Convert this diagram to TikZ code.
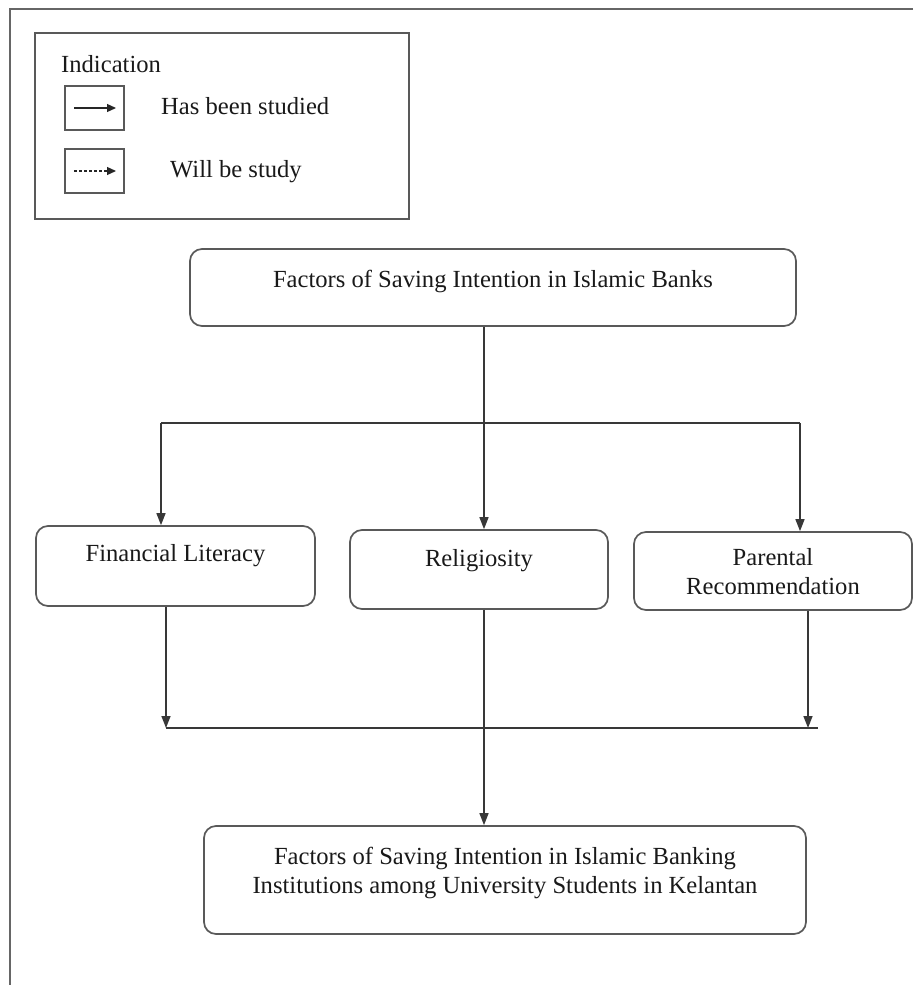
\documentclass[tikz,border=0pt]{standalone}
\usepackage{fontspec}
\setmainfont{Liberation Serif}
\usetikzlibrary{arrows.meta}
\begin{document}
\begin{tikzpicture}[x=1pt,y=-1pt,
  frame/.style={draw=black!60, line width=1.8pt},
  edge/.style={draw=black!78, line width=1.5pt},
  arr/.style={edge, -{Triangle[length=12pt,width=9pt]}},
  smallarr/.style={draw=black!85, line width=1.3pt, -{Triangle[length=9pt,width=8pt]}},
  box/.style={draw=black!65, line width=1.7pt, rounded corners=12pt, inner sep=0pt},
  sqbox/.style={draw=black!65, line width=1.7pt, inner sep=0pt},
  lbl/.style={font=\fontsize{24.6}{29}\selectfont, text=black!90, align=center, inner sep=0pt},
]
\useasboundingbox (0,0) rectangle (913,985);

% outer frame (top and left edges)
\draw[frame] (913,9) -- (10,9) -- (10,985);

% legend
\node[sqbox, minimum width=374pt, minimum height=186pt] (legend) at (222,126) {};
\node[lbl, anchor=west] (legtitle) at (61,64) {Indication};
\node[sqbox, line width=1.5pt, minimum width=59pt, minimum height=44pt] (keyA) at (94.5,108) {};
\node[sqbox, line width=1.5pt, minimum width=59pt, minimum height=44pt] (keyB) at (94.5,171) {};
\coordinate (keyAs) at (74,108);
\coordinate (keyAe) at (116,108);
\coordinate (keyBs) at (74,171);
\coordinate (keyBe) at (116,171);
\draw[smallarr] (keyAs) -- (keyAe);
\draw[smallarr, dash pattern=on 3pt off 2pt] (keyBs) -- (keyBe);
\node[lbl, anchor=west] (keyAtxt) at (161,106) {Has been studied};
\node[lbl, anchor=west] (keyBtxt) at (170,172) {Will be study};

% main boxes
\node[box, minimum width=606pt, minimum height=77pt] (top) at (493,287.5) {};
\node[lbl] (toptxt) at (493,281) {Factors of Saving Intention in Islamic Banks};

\node[box, minimum width=279pt, minimum height=80pt] (fl) at (175.5,566) {};
\node[lbl] (fltxt) at (175.5,556) {Financial Literacy};

\node[box, minimum width=258pt, minimum height=79pt] (rel) at (479,569.5) {};
\node[lbl] (reltxt) at (479,561) {Religiosity};

\node[box, minimum width=278pt, minimum height=78pt] (par) at (773,571) {};
\node[lbl] (partxt) at (773,572) {Parental\\Recommendation};

\node[box, minimum width=602pt, minimum height=108pt] (goal) at (505,880) {};
\node[lbl] (goaltxt) at (505,873) {Factors of Saving Intention in Islamic Banking\\Institutions among University Students in Kelantan};

% routing points
\coordinate (sx) at (484,0);
\coordinate (jl) at (161,423);
\coordinate (jr) at (800,423);
\coordinate (ml) at (166,728);
\coordinate (mr) at (808,728);
\coordinate (mend) at (818,728);

% connectors
\draw[arr] (top.south -| sx) -- (rel.north -| sx);
\draw[edge] (jl) -- (jr);
\draw[arr] (jl) -- (fl.north -| jl);
\draw[arr] (jr) -- (par.north -| jr);
\draw[arr] (fl.south -| ml) -- (ml);
\draw[arr] (par.south -| mr) -- (mr);
\draw[edge] (ml) -- (mend);
\draw[arr] (rel.south -| sx) -- (goal.north -| sx);
\end{tikzpicture}
\end{document}
